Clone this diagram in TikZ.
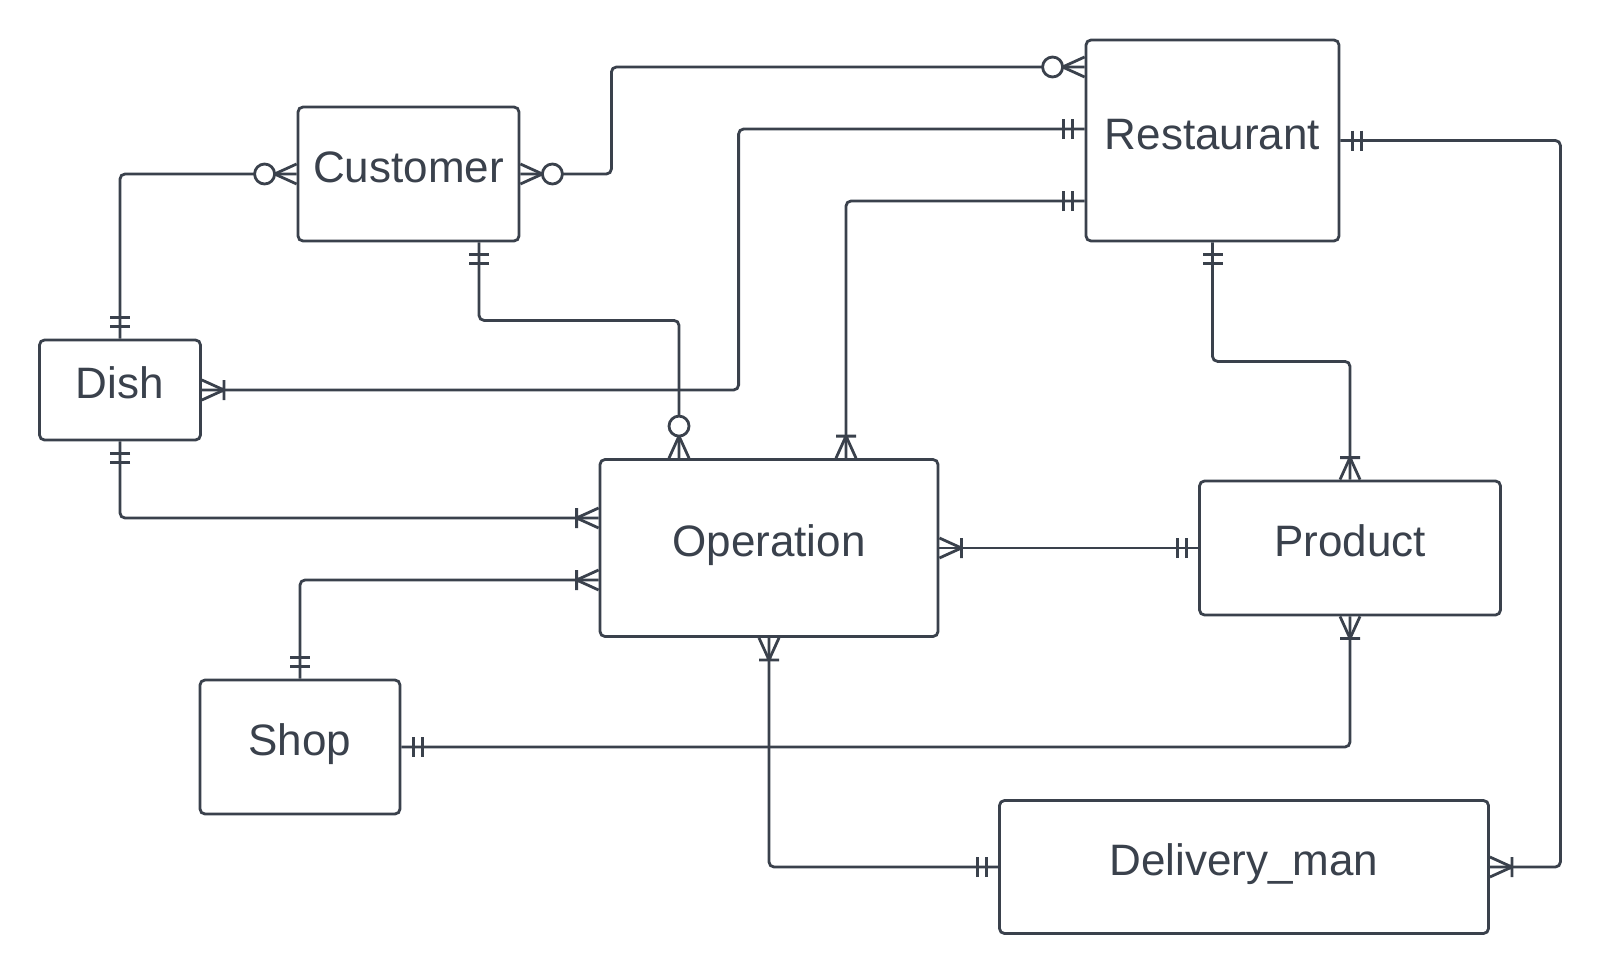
\documentclass[tikz,border=0pt]{standalone}
\usepackage{fontspec}
\setmainfont{Liberation Sans}
\definecolor{ink}{RGB}{58,65,76}
\begin{document}
\begin{tikzpicture}[x=1pt,y=-1pt,
  entity/.style={draw=ink,line width=2.8pt,fill=white,rounded corners=5pt,inner sep=0pt,
    text=ink,font=\fontsize{44}{50}\selectfont,text height=31.5pt,text depth=14pt},
  conn/.style={draw=ink,line width=2.8pt,rounded corners=5pt},
  mk/.style={draw=ink,line width=2.8pt},
  one/.pic={\draw[mk] (12,-10)--(12,10) (21,-10)--(21,10);},
  onemany/.pic={\draw[mk] (22,-10)--(22,10) (0,-10)--(22,0)--(0,10);},
  zeromany/.pic={\draw[mk] (0,-10)--(22,0)--(0,10); \draw[mk,fill=white] (32,0) circle[radius=10pt];}
]
\useasboundingbox (0,0) rectangle (1600,974);
% entities
\node[entity,minimum width=221pt,minimum height=134pt] (cust) at (408.5,174) {Customer};
\node[entity,minimum width=253pt,minimum height=201pt] (rest) at (1212.5,140.5) {Restaurant};
\node[entity,minimum width=161pt,minimum height=100pt] (dish) at (120,390) {Dish};
\node[entity,minimum width=338pt,minimum height=177pt] (op) at (769,548) {Operation};
\node[entity,minimum width=301pt,minimum height=134pt] (prod) at (1350,548) {Product};
\node[entity,minimum width=200pt,minimum height=134pt] (shop) at (300,747) {Shop};
\node[entity,minimum width=489pt,minimum height=133pt] (del) at (1244,867) {Delivery\_man};
% connectors
\draw[conn] (cust.east) -- ++(91,0) |- ([yshift=73.5pt]rest.west);
\draw[conn] (cust.west) -| (dish.north);
\draw[conn] ([yshift=11.5pt]rest.west) -- ++(-346,0) |- (dish.east);
\draw[conn] ([yshift=-60.5pt]rest.west) -| ([xshift=77pt]op.north);
\draw[conn] ([xshift=70.5pt]cust.south) -- ++(0,78) -| ([xshift=-90pt]op.north);
\draw[conn] (dish.south) |- ([yshift=30pt]op.west);
\draw[conn] (shop.north) |- ([yshift=-32pt]op.west);
\draw[conn] (op.east) -- (prod.west);
\draw[conn] (rest.south) -- ++(0,119) -| (prod.north);
\draw[conn] (shop.east) -| (prod.south);
\draw[conn] (op.south) |- (del.west);
\draw[conn] (rest.east) -- ++(220,0) |- (del.east);
% cardinality markers
\pic[rotate=0] at (cust.east) {zeromany};
\pic[rotate=180] at ([yshift=73.5pt]rest.west) {zeromany};
\pic[rotate=180] at (cust.west) {zeromany};
\pic[rotate=90] at (dish.north) {one};
\pic[rotate=180] at ([yshift=11.5pt]rest.west) {one};
\pic[rotate=0] at (dish.east) {onemany};
\pic[rotate=180] at ([yshift=-60.5pt]rest.west) {one};
\pic[rotate=90] at ([xshift=77pt]op.north) {onemany};
\pic[rotate=-90] at ([xshift=70.5pt]cust.south) {one};
\pic[rotate=90] at ([xshift=-90pt]op.north) {zeromany};
\pic[rotate=-90] at (dish.south) {one};
\pic[rotate=180] at ([yshift=30pt]op.west) {onemany};
\pic[rotate=90] at (shop.north) {one};
\pic[rotate=180] at ([yshift=-32pt]op.west) {onemany};
\pic[rotate=0] at (op.east) {onemany};
\pic[rotate=180] at (prod.west) {one};
\pic[rotate=-90] at (rest.south) {one};
\pic[rotate=90] at (prod.north) {onemany};
\pic[rotate=0] at (shop.east) {one};
\pic[rotate=-90] at (prod.south) {onemany};
\pic[rotate=-90] at (op.south) {onemany};
\pic[rotate=180] at (del.west) {one};
\pic[rotate=0] at (rest.east) {one};
\pic[rotate=0] at (del.east) {onemany};
\end{tikzpicture}
\end{document}
